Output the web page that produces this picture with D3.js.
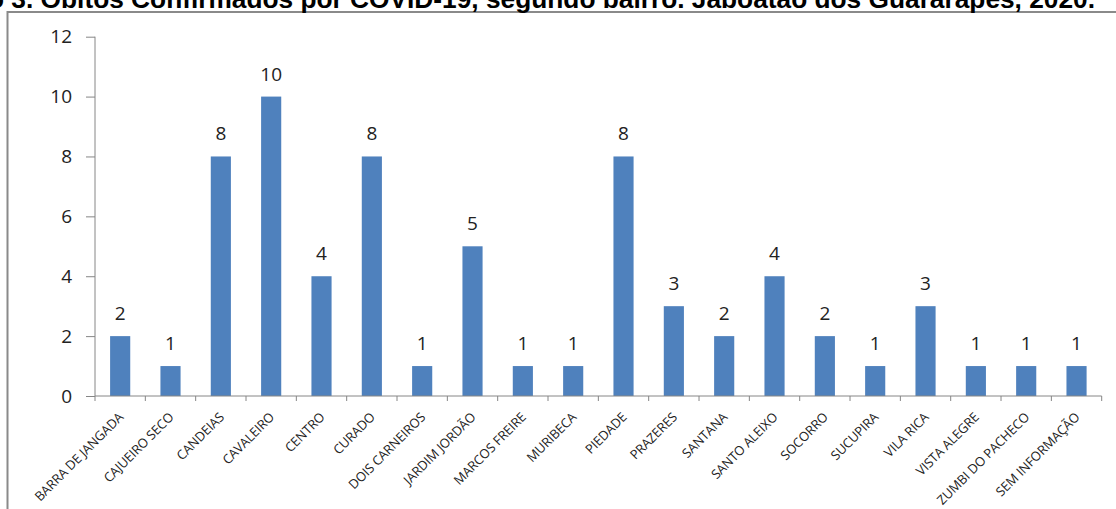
<!DOCTYPE html>
<html>
<head>
<meta charset="utf-8">
<script src="https://cdn.jsdelivr.net/npm/d3@7"></script>
<style>
  html, body { margin: 0; padding: 0; background: #fff; overflow: hidden; }
  svg { display: block; }
</style>
</head>
<body>
<svg id="chart" width="1116" height="509"></svg>
<script>
const titleText = "Gráfico 3. Óbitos Confirmados por COVID-19, segundo bairro. Jaboatão dos Guararapes, 2020.";
const titleVisiblePart = "Óbitos Confirmados por COVID-19, segundo bairro. Jaboatão dos Guararapes, 2020.";
const categories = ["BARRA DE JANGADA", "CAJUEIRO SECO", "CANDEIAS", "CAVALEIRO", "CENTRO", "CURADO",
  "DOIS CARNEIROS", "JARDIM JORDÃO", "MARCOS FREIRE", "MURIBECA", "PIEDADE", "PRAZERES", "SANTANA",
  "SANTO ALEIXO", "SOCORRO", "SUCUPIRA", "VILA RICA", "VISTA ALEGRE", "ZUMBI DO PACHECO", "SEM INFORMAÇÃO"];
const obitos = [2, 1, 8, 10, 4, 8, 1, 5, 1, 1, 8, 3, 2, 4, 2, 1, 3, 1, 1, 1];
const yTicks = [0, 2, 4, 6, 8, 10, 12];

(function () {
const svg = d3.select("#chart");
const pLeft = 95, pRight = 1101.7, pTop = 36.7, pBottom = 396;

// outer frame (partly outside the window)
svg.append("rect").attr("x", 7.5).attr("y", 12).attr("width", 1300).attr("height", 700)
  .attr("fill", "none").attr("stroke", "#8a8a8a").attr("stroke-width", 2);

// title, cut off at the top as in the source image
const t = svg.append("text").attr("x", 1095).attr("y", 7.5).attr("text-anchor", "end")
  .attr("font-family", "Liberation Sans, Arial, sans-serif").attr("font-weight", "bold")
  .attr("fill", "#000").attr("font-size", 19).text(titleVisiblePart);
const w = t.node().getComputedTextLength();
t.attr("font-size", 19 * 1055 / w).text(titleText);

const x = d3.scaleBand().domain(categories).range([pLeft, pRight]).paddingInner(0.6).paddingOuter(0.3);
const y = d3.scaleLinear().domain([0, 12]).range([pBottom, pTop]);

// bars
svg.append("g").selectAll("rect").data(categories).join("rect")
  .attr("x", d => x(d)).attr("width", x.bandwidth())
  .attr("y", (d, i) => y(obitos[i])).attr("height", (d, i) => pBottom - y(obitos[i]))
  .attr("fill", "#4f81bd");

// value labels
svg.append("g").selectAll("text").data(categories).join("text")
  .attr("x", d => x(d) + x.bandwidth() / 2).attr("y", (d, i) => y(obitos[i]) - 16)
  .attr("text-anchor", "middle").attr("font-family", "Open Sans, sans-serif")
  .attr("font-size", 19).attr("fill", "#222").text((d, i) => obitos[i]);

// y axis
const yAxis = svg.append("g").attr("transform", `translate(${pLeft},0)`)
  .call(d3.axisLeft(y).tickValues(yTicks).tickSize(9).tickPadding(14));
yAxis.selectAll("line, path").attr("stroke", "#868686");
yAxis.select(".domain").attr("d", `M0,${pBottom}V${pTop}`);
yAxis.selectAll("text").attr("font-family", "Open Sans, sans-serif").attr("font-size", 19).attr("fill", "#222");

// x axis with ticks at band boundaries
const xAxis = svg.append("g").attr("transform", `translate(0,${pBottom})`);
xAxis.append("line").attr("x1", pLeft).attr("x2", pRight).attr("stroke", "#868686");
const boundaries = d3.range(categories.length + 1).map(i => pLeft + i * (pRight - pLeft) / categories.length);
xAxis.selectAll("line.tick").data(boundaries).join("line").attr("class", "tick")
  .attr("x1", d => d).attr("x2", d => d).attr("y1", 0).attr("y2", 5).attr("stroke", "#868686");
xAxis.selectAll("text").data(categories).join("text")
  .attr("transform", d => `translate(${x(d) + x.bandwidth() / 2 + 4},${22}) rotate(-45)`)
  .attr("text-anchor", "end").attr("font-family", "Open Sans, sans-serif")
  .attr("font-size", 13).attr("letter-spacing", -0.15).attr("fill", "#222").text(d => d);
})();
</script>
</body>
</html>
